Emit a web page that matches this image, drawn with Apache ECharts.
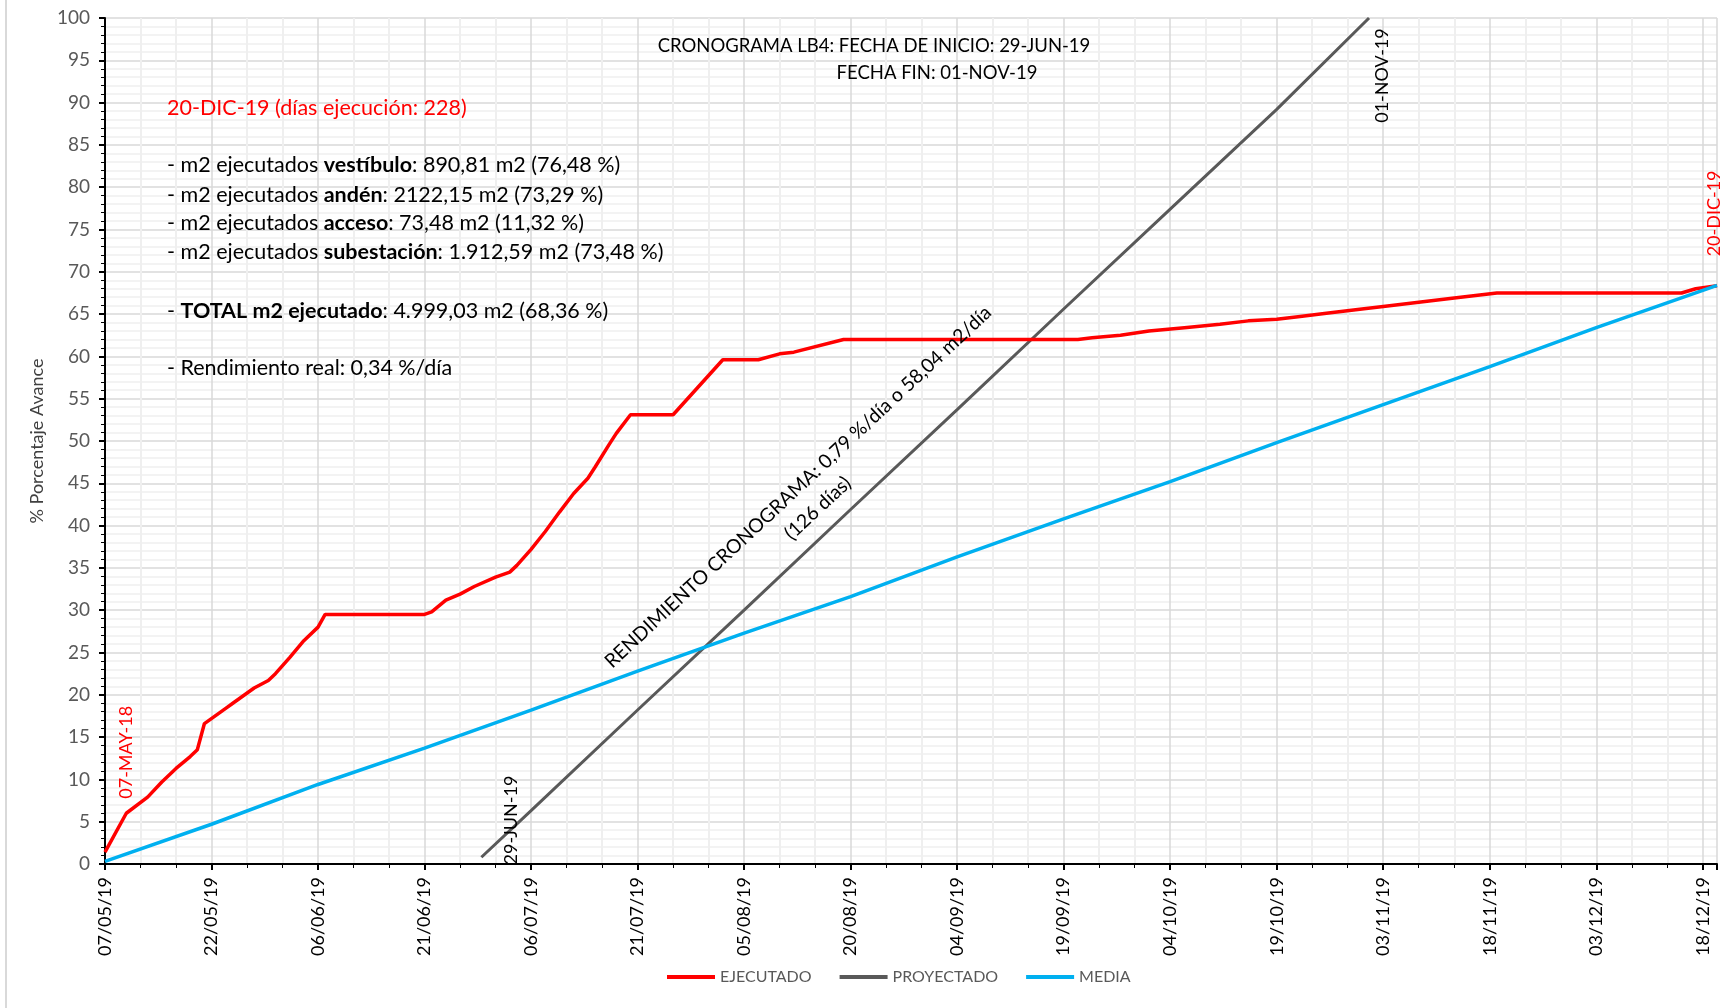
<!DOCTYPE html>
<html>
<head>
<meta charset="utf-8">
<script src="https://cdn.jsdelivr.net/npm/echarts@6/dist/echarts.min.js"></script>
<style>html,body{margin:0;padding:0;background:#fff;}#c{width:1734px;height:1008px;}</style>
</head>
<body>
<div id="c"></div>
<script>
// ---------------- DATA ----------------
const startDate = '07/05/19';
const endDate = '20/12/19';

const ejecutadoFechas = ['07/05/19','10/05/19','13/05/19','15/05/19','17/05/19','19/05/19','20/05/19','21/05/19','24/05/19','25/05/19','28/05/19','30/05/19','31/05/19','02/06/19','04/06/19','06/06/19','07/06/19','21/06/19','22/06/19','24/06/19','26/06/19','28/06/19','01/07/19','03/07/19','04/07/19','06/07/19','08/07/19','10/07/19','12/07/19','14/07/19','15/07/19','17/07/19','18/07/19','20/07/19','26/07/19','02/08/19','07/08/19','10/08/19','12/08/19','19/08/19','21/09/19','23/09/19','27/09/19','01/10/19','06/10/19','11/10/19','15/10/19','19/10/19','22/10/19','26/10/19','31/10/19','03/11/19','08/11/19','13/11/19','16/11/19','19/11/19','15/12/19','17/12/19','20/12/19'];
const ejecutadoValores = [1.4,6.0,7.9,9.7,11.3,12.7,13.5,16.6,18.4,19.0,20.8,21.7,22.5,24.4,26.4,28.0,29.5,29.5,29.8,31.2,31.9,32.8,33.9,34.5,35.3,37.2,39.3,41.6,43.8,45.6,46.9,49.6,50.9,53.1,53.1,59.6,59.6,60.3,60.5,62.0,62.0,62.2,62.5,63.0,63.4,63.8,64.2,64.4,64.7,65.1,65.6,65.9,66.4,66.9,67.2,67.5,67.5,68.0,68.36];

const proyectadoFechas = ['29/06/19','06/07/19','21/07/19','05/08/19','20/08/19','04/09/19','19/09/19','04/10/19','19/10/19','01/11/19'];
const proyectadoValores = [0.8,6.3,18.2,30.0,41.9,53.7,65.6,77.4,89.2,100];

const mediaFechas = ['07/05/19','22/05/19','06/06/19','21/06/19','06/07/19','21/07/19','05/08/19','20/08/19','04/09/19','19/09/19','04/10/19','19/10/19','03/11/19','18/11/19','03/12/19','18/12/19','20/12/19'];
const mediaValores = [0.3,4.7,9.4,13.7,18.2,22.8,27.3,31.6,36.3,40.8,45.2,49.8,54.3,58.8,63.4,67.8,68.4];

const seriesNames = ['EJECUTADO','PROYECTADO','MEDIA'];
const yTicks = {min: 0, max: 100, interval: 5};
const xTickDays = 15;

// --------------- HELPERS ---------------
function parseD(s){const p=s.split('/');return Date.UTC(2000+ +p[2], +p[1]-1, +p[0]);}
const base = parseD(startDate);
function dayOf(s){return Math.round((parseD(s)-base)/86400000);}
function fmt(v){const d=new Date(base+v*86400000);const dd=String(d.getUTCDate()).padStart(2,'0');const mm=String(d.getUTCMonth()+1).padStart(2,'0');const yy=String(d.getUTCFullYear()).slice(2);return dd+'/'+mm+'/'+yy;}
function pairs(f,v){return f.map((s,i)=>[dayOf(s),v[i]]);}

const FONT = 'Lato, "Liberation Sans", sans-serif';
const chart = echarts.init(document.getElementById('c'), null, {renderer:'canvas'});
const xMax = dayOf(endDate);

chart.setOption({
  animation:false,
  backgroundColor:'#fff',
  textStyle:{fontFamily:FONT},
  grid:{left:105, right:17, top:18, bottom:144, containLabel:false},
  legend:{
    data:seriesNames, left:662, top:964, icon:'rect', itemWidth:48, itemHeight:4, itemGap:28,
    textStyle:{fontFamily:FONT, fontSize:16, color:'#595959'}
  },
  xAxis:{
    type:'value', min:0, max:xMax, interval:xTickDays,
    axisLine:{lineStyle:{color:'#000', width:2}},
    axisTick:{show:true, length:6, lineStyle:{color:'#000', width:2}},
    minorTick:{show:true, splitNumber:3, length:4, lineStyle:{color:'#000'}},
    splitLine:{show:true, lineStyle:{color:'#d9d9d9', width:1.5}},
    minorSplitLine:{show:true, lineStyle:{color:'#efefef', width:2}},
    axisLabel:{rotate:90, margin:13, fontSize:18, color:'#000', fontFamily:FONT,
      formatter:v=>(v % xTickDays === 0 ? fmt(v) : '')}
  },
  yAxis:{
    type:'value', min:yTicks.min, max:yTicks.max, interval:yTicks.interval,
    name:'% Porcentaje Avance', nameLocation:'middle', nameGap:57, nameRotate:90,
    nameTextStyle:{fontSize:18, color:'#404040', fontFamily:FONT},
    axisLine:{show:true, lineStyle:{color:'#000', width:2}},
    axisTick:{show:true, length:6, lineStyle:{color:'#000', width:2}},
    minorTick:{show:true, splitNumber:5, length:4, lineStyle:{color:'#000'}},
    splitLine:{show:true, lineStyle:{color:'#d9d9d9', width:1.5}},
    minorSplitLine:{show:true, lineStyle:{color:'#efefef', width:1.5}},
    axisLabel:{fontSize:19, color:'#595959', margin:15, fontFamily:FONT}
  },
  series:[
    {name:seriesNames[0], type:'line', data:pairs(ejecutadoFechas,ejecutadoValores), symbol:'none', itemStyle:{color:'#ff0000'}, lineStyle:{color:'#ff0000', width:3.5}, z:4},
    {name:seriesNames[1], type:'line', data:pairs(proyectadoFechas,proyectadoValores), symbol:'none', itemStyle:{color:'#595959'}, lineStyle:{color:'#595959', width:3}, z:3},
    {name:seriesNames[2], type:'line', data:pairs(mediaFechas,mediaValores), symbol:'none', itemStyle:{color:'#00b0f0'}, lineStyle:{color:'#00b0f0', width:3.5}, z:5}
  ]
});

// --------------- ANNOTATIONS ---------------
function Pd(day, val){return chart.convertToPixel({gridIndex:0},[day, val]);}
const g = [];
g.push({type:'line', shape:{x1:6,y1:0,x2:6,y2:1008}, style:{stroke:'#d9d9d9', lineWidth:2}, silent:true});

function vtext(p, txt, color){
  g.push({type:'text', x:p[0], y:p[1], rotation:Math.PI/2, z:50,
    style:{text:txt, fill:color, font:'18px '+FONT, align:'center', verticalAlign:'middle'}});
}
vtext(Pd(3.0, 13.2), '07-MAY-18', '#ff0000');
vtext(Pd(57.2, 5.2), '29-JUN-19', '#000');
vtext(Pd(179.8, 93.2), '01-NOV-19', '#000');
vtext(Pd(226.6, 76.9), '20-DIC-19', '#ff0000');

g.push({type:'text', x:874, y:46, z:50, style:{text:'CRONOGRAMA LB4: FECHA DE INICIO: 29-JUN-19', fill:'#000', font:'18.5px '+FONT, align:'center', verticalAlign:'middle'}});
g.push({type:'text', x:937, y:73, z:50, style:{text:'FECHA FIN: 01-NOV-19', fill:'#000', font:'18.5px '+FONT, align:'center', verticalAlign:'middle'}});

const FS = 21.5;
const rich = {
  n:{fontSize:FS, fontFamily:FONT, fill:'#000'},
  b:{fontSize:FS, fontFamily:FONT, fill:'#000', fontWeight:'bold'},
  r:{fontSize:FS, fontFamily:FONT, fill:'#ff0000'}
};
function ltext(y, txt){
  g.push({type:'text', x:167, y:y, z:50, style:{text:txt, rich:rich, align:'left', verticalAlign:'middle'}});
}
ltext(108, '{r|20-DIC-19 (días ejecución: 228)}');
ltext(165, '{n|- m2 ejecutados }{b|vestíbulo}{n|: 890,81 m2 (76,48 %)}');
ltext(195, '{n|- m2 ejecutados }{b|andén}{n|: 2122,15 m2 (73,29 %)}');
ltext(223, '{n|- m2 ejecutados }{b|acceso}{n|: 73,48 m2 (11,32 %)}');
ltext(252, '{n|- m2 ejecutados }{b|subestación}{n|: 1.912,59 m2 (73,48 %)}');
ltext(311, '{n|- }{b|TOTAL m2 ejecutado}{n|: 4.999,03 m2 (68,36 %)}');
ltext(368, '{n|- Rendimiento real: 0,34 %/día}');

const pr = Pd(99, 43.3);
g.push({type:'text', x:pr[0], y:pr[1], rotation:43*Math.PI/180, z:50,
  style:{text:'RENDIMIENTO CRONOGRAMA: 0,79 %/día o 58,04 m2/día\n(126 días)', fill:'#000', font:'19.5px '+FONT, align:'center', verticalAlign:'middle', lineHeight:29}});

chart.setOption({graphic:g});
</script>
</body>
</html>
